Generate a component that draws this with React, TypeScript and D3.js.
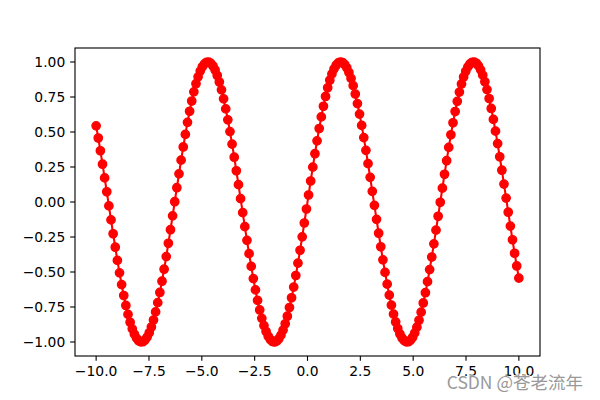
import React from "react";
import * as d3 from "d3";

const X_VALUES: number[] = [
  -10.000, -9.899, -9.799, -9.698, -9.598, -9.497, -9.397, -9.296, -9.196, -9.095,
  -8.995, -8.894, -8.794, -8.693, -8.593, -8.492, -8.392, -8.291, -8.191, -8.090,
  -7.990, -7.889, -7.789, -7.688, -7.588, -7.487, -7.387, -7.286, -7.186, -7.085,
  -6.985, -6.884, -6.784, -6.683, -6.583, -6.482, -6.382, -6.281, -6.181, -6.080,
  -5.980, -5.879, -5.779, -5.678, -5.578, -5.477, -5.377, -5.276, -5.176, -5.075,
  -4.975, -4.874, -4.774, -4.673, -4.573, -4.472, -4.372, -4.271, -4.171, -4.070,
  -3.970, -3.869, -3.769, -3.668, -3.568, -3.467, -3.367, -3.266, -3.166, -3.065,
  -2.965, -2.864, -2.764, -2.663, -2.563, -2.462, -2.362, -2.261, -2.161, -2.060,
  -1.960, -1.859, -1.759, -1.658, -1.558, -1.457, -1.357, -1.256, -1.156, -1.055,
  -0.955, -0.854, -0.754, -0.653, -0.553, -0.452, -0.352, -0.251, -0.151, -0.050,
  0.050, 0.151, 0.251, 0.352, 0.452, 0.553, 0.653, 0.754, 0.854, 0.955,
  1.055, 1.156, 1.256, 1.357, 1.457, 1.558, 1.658, 1.759, 1.859, 1.960,
  2.060, 2.161, 2.261, 2.362, 2.462, 2.563, 2.663, 2.764, 2.864, 2.965,
  3.065, 3.166, 3.266, 3.367, 3.467, 3.568, 3.668, 3.769, 3.869, 3.970,
  4.070, 4.171, 4.271, 4.372, 4.472, 4.573, 4.673, 4.774, 4.874, 4.975,
  5.075, 5.176, 5.276, 5.377, 5.477, 5.578, 5.678, 5.779, 5.879, 5.980,
  6.080, 6.181, 6.281, 6.382, 6.482, 6.583, 6.683, 6.784, 6.884, 6.985,
  7.085, 7.186, 7.286, 7.387, 7.487, 7.588, 7.688, 7.789, 7.889, 7.990,
  8.090, 8.191, 8.291, 8.392, 8.492, 8.593, 8.693, 8.794, 8.894, 8.995,
  9.095, 9.196, 9.296, 9.397, 9.497, 9.598, 9.698, 9.799, 9.899, 10.000,
];

const Y_VALUES: number[] = [
  0.544, 0.457, 0.366, 0.270, 0.172, 0.073, -0.028, -0.128, -0.227, -0.323,
  -0.417, -0.506, -0.590, -0.668, -0.739, -0.803, -0.859, -0.906, -0.944, -0.972,
  -0.991, -0.999, -0.998, -0.986, -0.965, -0.934, -0.893, -0.843, -0.785, -0.719,
  -0.646, -0.566, -0.480, -0.390, -0.295, -0.198, -0.099, 0.002, 0.102, 0.201,
  0.299, 0.393, 0.483, 0.569, 0.648, 0.721, 0.787, 0.845, 0.894, 0.935,
  0.966, 0.987, 0.998, 0.999, 0.990, 0.971, 0.943, 0.904, 0.857, 0.801,
  0.737, 0.665, 0.587, 0.503, 0.413, 0.320, 0.223, 0.124, 0.024, -0.076,
  -0.176, -0.274, -0.369, -0.460, -0.547, -0.628, -0.703, -0.771, -0.831, -0.883,
  -0.925, -0.959, -0.982, -0.996, -1.000, -0.994, -0.977, -0.951, -0.915, -0.870,
  -0.816, -0.754, -0.684, -0.608, -0.525, -0.437, -0.345, -0.249, -0.150, -0.050,
  0.050, 0.150, 0.249, 0.345, 0.437, 0.525, 0.608, 0.684, 0.754, 0.816,
  0.870, 0.915, 0.951, 0.977, 0.994, 1.000, 0.996, 0.982, 0.959, 0.925,
  0.883, 0.831, 0.771, 0.703, 0.628, 0.547, 0.460, 0.369, 0.274, 0.176,
  0.076, -0.024, -0.124, -0.223, -0.320, -0.413, -0.503, -0.587, -0.665, -0.737,
  -0.801, -0.857, -0.904, -0.943, -0.971, -0.990, -0.999, -0.998, -0.987, -0.966,
  -0.935, -0.894, -0.845, -0.787, -0.721, -0.648, -0.569, -0.483, -0.393, -0.299,
  -0.201, -0.102, -0.002, 0.099, 0.198, 0.295, 0.390, 0.480, 0.566, 0.646,
  0.719, 0.785, 0.843, 0.893, 0.934, 0.965, 0.986, 0.998, 0.999, 0.991,
  0.972, 0.944, 0.906, 0.859, 0.803, 0.739, 0.668, 0.590, 0.506, 0.417,
  0.323, 0.227, 0.128, 0.028, -0.073, -0.172, -0.270, -0.366, -0.457, -0.544,
];

const X_TICKS: number[] = [-10, -7.5, -5, -2.5, 0, 2.5, 5, 7.5, 10];
const Y_TICKS: number[] = [-1, -0.75, -0.5, -0.25, 0, 0.25, 0.5, 0.75, 1];
const WATERMARK = "CSDN @苍老流年";

const W = 600;
const H = 400;
const LEFT = 75;
const RIGHT = 540;
const TOP = 48;
const BOTTOM = 356;
const FONT = "'DejaVu Sans', sans-serif";
const FS = 13.89;
const RED = "#ff0000";

const fmtMinus = (s: string) => s.replace("-", "\u2212");

export default function App() {
  const x = d3.scaleLinear().domain([-11, 11]).range([LEFT, RIGHT]);
  const y = d3.scaleLinear().domain([-1.1, 1.1]).range([BOTTOM, TOP]);
  const pts = X_VALUES.map((v, i) => [v, Y_VALUES[i]] as [number, number]);
  const line = d3
    .line<[number, number]>()
    .x((d) => x(d[0]))
    .y((d) => y(d[1]));
  const tickLen = 4.86;

  return (
    <svg
      width={W}
      height={H}
      style={{ position: "absolute", left: 0, top: 0, background: "#fff" }}
      fontFamily={FONT}
    >
      <rect x={0} y={0} width={W} height={H} fill="#fff" />
      <path d={line(pts) || ""} fill="none" stroke={RED} strokeWidth={2.08} />
      {pts.map((d, i) => (
        <circle
          key={i}
          cx={x(d[0])}
          cy={y(d[1])}
          r={4.17}
          fill={RED}
          stroke={RED}
          strokeWidth={1.39}
        />
      ))}
      <rect
        x={LEFT}
        y={TOP}
        width={RIGHT - LEFT}
        height={BOTTOM - TOP}
        fill="none"
        stroke="#000"
        strokeWidth={1.11}
      />
      {X_TICKS.map((t) => (
        <g key={"x" + t}>
          <line
            x1={x(t)}
            x2={x(t)}
            y1={BOTTOM}
            y2={BOTTOM + tickLen}
            stroke="#000"
            strokeWidth={1.11}
          />
          <text
            x={x(t)}
            y={BOTTOM + tickLen + 4.86 + 10.6}
            textAnchor="middle"
            fontSize={FS}
            fill="#000"
          >
            {fmtMinus(d3.format(".1f")(t))}
          </text>
        </g>
      ))}
      {Y_TICKS.map((t) => (
        <g key={"y" + t}>
          <line
            x1={LEFT - tickLen}
            x2={LEFT}
            y1={y(t)}
            y2={y(t)}
            stroke="#000"
            strokeWidth={1.11}
          />
          <text
            x={LEFT - tickLen - 4.86}
            y={y(t)}
            dy="0.36em"
            textAnchor="end"
            fontSize={FS}
            fill="#000"
          >
            {fmtMinus(d3.format(".2f")(t))}
          </text>
        </g>
      ))}
      <text
        x={583}
        y={389}
        textAnchor="end"
        fontSize={17.5}
        fontFamily="'Noto Sans CJK SC', 'Noto Sans', sans-serif"
        fill="#999999"
        stroke="#ffffff"
        strokeWidth={1.5}
        strokeOpacity={0.8}
        style={{ paintOrder: "stroke" }}
      >
        {WATERMARK}
      </text>
    </svg>
  );
}
